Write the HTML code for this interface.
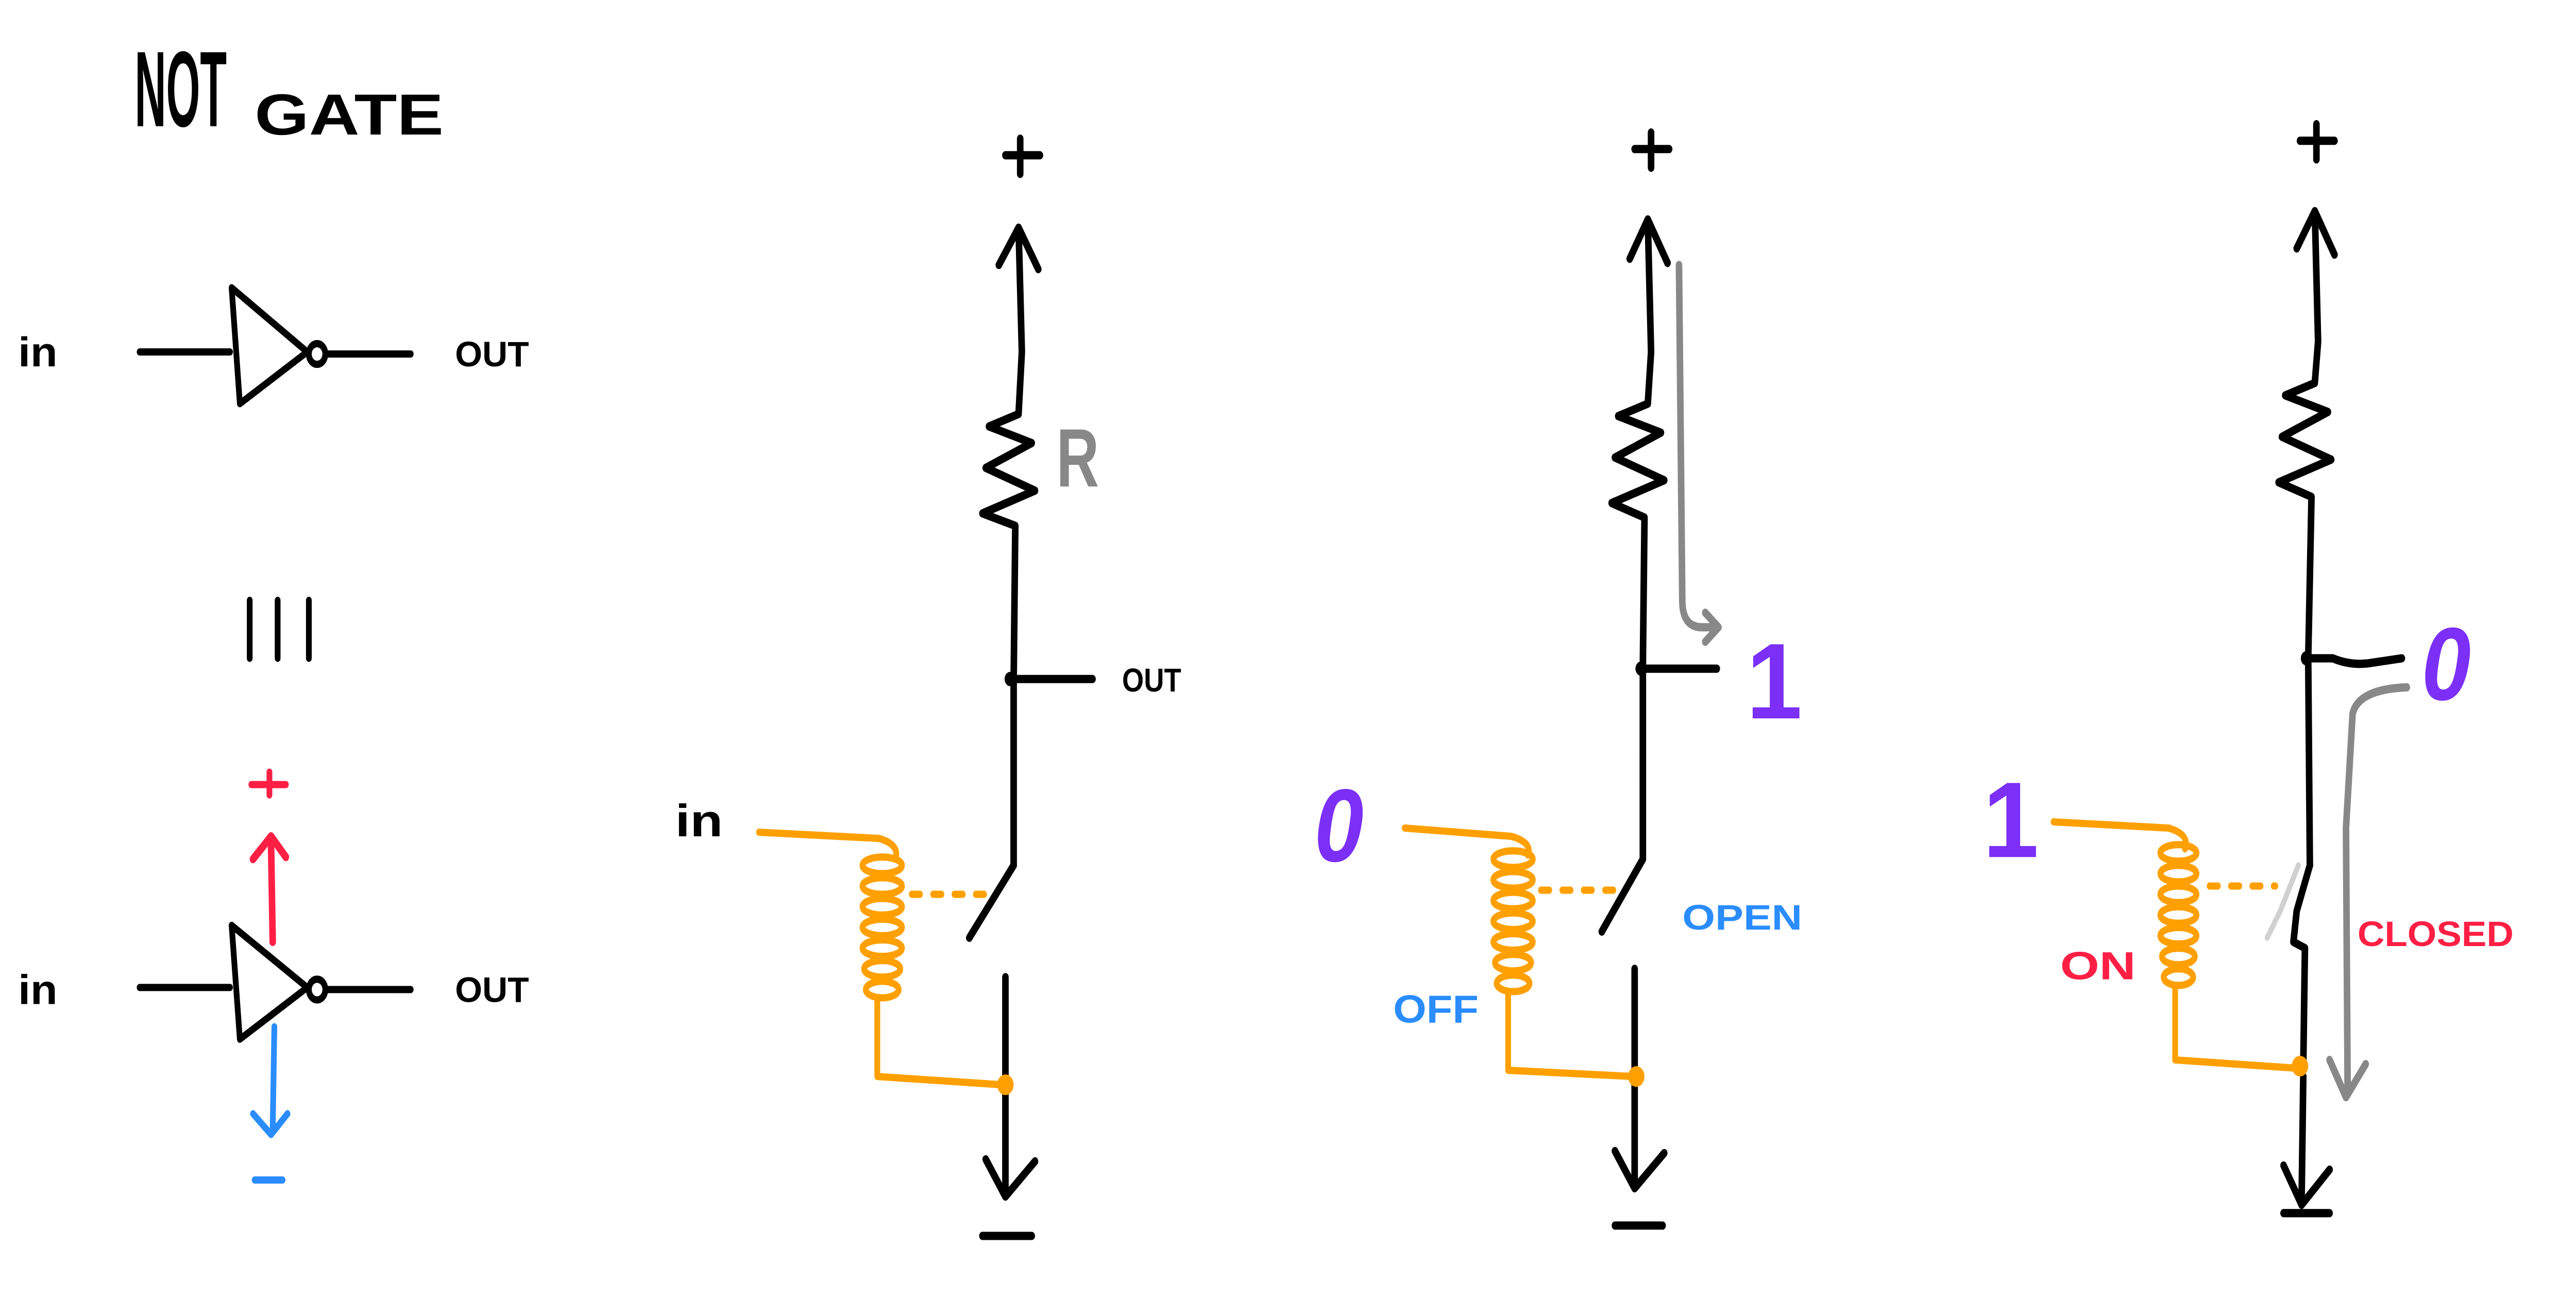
<!DOCTYPE html>
<html><head><meta charset="utf-8"><style>
html,body{margin:0;padding:0;background:#fff;width:100%;height:100%;overflow:hidden;}
svg{display:block;position:absolute;left:0;top:0;width:100vw;height:100vh;}
text{font-family:"Liberation Sans",sans-serif;font-weight:bold;}
</style></head><body>
<svg viewBox="0 0 1568 627" preserveAspectRatio="none" xmlns="http://www.w3.org/2000/svg">
<g fill="none" stroke-linecap="round" stroke-linejoin="round">
<!-- Title -->
<text x="82" y="61" font-size="52" fill="#000" stroke="none" font-weight="normal" textLength="56" lengthAdjust="spacingAndGlyphs">NOT</text>
<text x="155" y="65" font-size="28" fill="#000" stroke="none" textLength="115" lengthAdjust="spacingAndGlyphs">GATE</text>

<!-- Gate 1 -->
<text x="11" y="177" font-size="20" fill="#000" stroke="none" textLength="24" lengthAdjust="spacingAndGlyphs">in</text>
<path d="M85 170 L140 170" stroke="#000" stroke-width="3.5"/>
<path d="M141 139 L146 195 L187 170 Z" stroke="#000" stroke-width="3.5"/>
<circle cx="193" cy="171" r="5" stroke="#000" stroke-width="3.5"/>
<path d="M199 171 L250 171" stroke="#000" stroke-width="3.5"/>
<text x="277" y="177" font-size="17" fill="#000" stroke="none" textLength="45" lengthAdjust="spacingAndGlyphs">OUT</text>

<!-- III -->
<path d="M152 290 L152 318 M169 290 L169 318 M188 290 L188 318" stroke="#000" stroke-width="3.5"/>

<!-- Gate 2 -->
<text x="11" y="485" font-size="20" fill="#000" stroke="none" textLength="24" lengthAdjust="spacingAndGlyphs">in</text>
<path d="M85 477 L140 477" stroke="#000" stroke-width="3.5"/>
<path d="M141 447 L146 502 L187 477 Z" stroke="#000" stroke-width="3.5"/>
<circle cx="193" cy="478" r="5" stroke="#000" stroke-width="3.5"/>
<path d="M199 478 L250 478" stroke="#000" stroke-width="3.5"/>
<text x="277" y="484" font-size="17" fill="#000" stroke="none" textLength="45" lengthAdjust="spacingAndGlyphs">OUT</text>
<path d="M153 379 L174 379 M164 373 L164 384" stroke="#ff1f44" stroke-width="3.5"/>
<path d="M166 455 L165 408 M154 415 L165 404 L174 414" stroke="#ff1f44" stroke-width="4"/>
<path d="M167 496 L166 545 M154 538 L165 548 L175 538" stroke="#2a8cff" stroke-width="3.5"/>
<path d="M155 570 L172 570" stroke="#2a8cff" stroke-width="3.5"/>

<!-- Circuit 1 -->
<g stroke="#000" stroke-width="4">
<path d="M612 75 L633 75 M621 67 L621 84"/>
<path d="M608 128 L620 110 L632 130 M620 110 L622 170 L620 200 L602 206 L628 214 L600 226 L630 237 L598 248 L618 254 L617 330 L617 418"/>
<path d="M617 418 L590 453"/>
<path d="M612 472 L612 576 M600 560 L612 578 L630 561"/>
<path d="M598 597 L628 597"/>
<path d="M615 328 L640 328 L665 328"/>
</g>
<circle cx="615" cy="328" r="3.5" fill="#000"/>
<text x="643" y="235" font-size="40" fill="#888" stroke="none" textLength="26" lengthAdjust="spacingAndGlyphs">R</text>
<text x="683" y="334" font-size="16" fill="#000" stroke="none" textLength="36" lengthAdjust="spacingAndGlyphs">OUT</text>
<text x="411" y="404" font-size="22" fill="#000" stroke="none" textLength="29" lengthAdjust="spacingAndGlyphs">in</text>
<g stroke="#ffa000" stroke-width="3.5">
<path d="M462 402 L535 405 Q548 408 545 415"/>
<ellipse cx="537" cy="418" rx="12" ry="4"/><ellipse cx="537" cy="428" rx="12" ry="4"/><ellipse cx="537" cy="438" rx="12" ry="4"/><ellipse cx="537" cy="448" rx="12" ry="4"/><ellipse cx="537" cy="458" rx="12" ry="4"/><ellipse cx="537" cy="468" rx="11" ry="4"/><ellipse cx="537" cy="478" rx="10" ry="4"/>
<path d="M534 482 L534 520 L610 524"/>
<path d="M555 432 L600 432" stroke-dasharray="5 8"/>
</g>
<circle cx="612" cy="524" r="5" fill="#ffa000"/>

<!-- Circuit 2 -->
<g stroke="#000" stroke-width="4">
<path d="M995 72 L1016 72 M1005 64 L1005 81"/>
<path d="M992 125 L1003 106 L1015 127 M1003 106 L1005 170 L1003 195 L985 201 L1011 209 L983 221 L1013 232 L981 243 L1001 250 L1000 322 L1000 415"/>
<path d="M1000 415 L975 450"/>
<path d="M995 468 L995 570 M983 556 L995 574 L1013 557"/>
<path d="M983 592 L1012 592"/>
<path d="M998 323 L1045 323"/>
</g>
<circle cx="999" cy="323" r="3.5" fill="#000"/>
<path d="M1022 128 L1024 290 Q1024 303 1036 303 L1045 303 M1038 296 L1046 303 L1038 310" stroke="#888" stroke-width="4"/>
<text x="1063" y="347" font-size="52" fill="#7b2ff7" stroke="none" font-weight="normal" textLength="34" lengthAdjust="spacingAndGlyphs">1</text>
<text x="800" y="416" font-size="50" fill="#7b2ff7" stroke="none" font-weight="normal" font-style="italic" textLength="30" lengthAdjust="spacingAndGlyphs">0</text>
<text x="1024" y="449" font-size="17" fill="#2a8cff" stroke="none" textLength="73" lengthAdjust="spacingAndGlyphs">OPEN</text>
<text x="848" y="494" font-size="19" fill="#2a8cff" stroke="none" textLength="52" lengthAdjust="spacingAndGlyphs">OFF</text>
<g stroke="#ffa000" stroke-width="3.5">
<path d="M855 400 L920 404 Q933 407 930 413"/>
<ellipse cx="921" cy="415" rx="12" ry="4"/><ellipse cx="921" cy="425" rx="12" ry="4"/><ellipse cx="921" cy="435" rx="12" ry="4"/><ellipse cx="921" cy="445" rx="12" ry="4"/><ellipse cx="921" cy="455" rx="12" ry="4"/><ellipse cx="921" cy="465" rx="11" ry="4"/><ellipse cx="921" cy="475" rx="10" ry="4"/>
<path d="M918 480 L918 517 L994 520"/>
<path d="M938 430 L985 430" stroke-dasharray="5 8"/>
</g>
<circle cx="996" cy="520" r="5" fill="#ffa000"/>

<!-- Circuit 3 -->
<g stroke="#000" stroke-width="4">
<path d="M1400 68 L1421 68 M1410 60 L1410 77"/>
<path d="M1398 120 L1409 102 L1421 123 M1409 102 L1411 165 L1409 185 L1391 191 L1417 199 L1389 211 L1419 222 L1387 233 L1407 240 L1405 318 L1406 418"/>
<path d="M1406 418 L1398 440 L1396 455 L1403 458 L1402 515"/>
<path d="M1402 520 L1401 578 M1390 563 L1401 582 L1418 565"/>
<path d="M1390 586 L1418 586"/>
<path d="M1404 318 L1420 318 Q1432 322 1445 320 L1462 318"/>
</g>
<circle cx="1404" cy="318" r="3.5" fill="#000"/>
<path d="M1399 418 L1388 440 L1380 453" stroke="#d0d0d0" stroke-width="3"/>
<path d="M1465 332 Q1435 333 1432 345 L1428 400 L1429 528 M1418 512 L1428 530 L1440 514" stroke="#888" stroke-width="4"/>
<text x="1474" y="338" font-size="50" fill="#7b2ff7" stroke="none" font-weight="normal" font-style="italic" textLength="30" lengthAdjust="spacingAndGlyphs">0</text>
<text x="1207" y="414" font-size="52" fill="#7b2ff7" stroke="none" font-weight="normal" textLength="34" lengthAdjust="spacingAndGlyphs">1</text>
<text x="1435" y="457" font-size="17" fill="#ff1f44" stroke="none" textLength="95" lengthAdjust="spacingAndGlyphs">CLOSED</text>
<text x="1254" y="473" font-size="19" fill="#ff1f44" stroke="none" textLength="46" lengthAdjust="spacingAndGlyphs">ON</text>
<g stroke="#ffa000" stroke-width="3.5">
<path d="M1250 397 L1320 400 Q1333 403 1330 410"/>
<ellipse cx="1326" cy="412" rx="11" ry="4"/><ellipse cx="1326" cy="422" rx="11" ry="4"/><ellipse cx="1326" cy="432" rx="11" ry="4"/><ellipse cx="1326" cy="442" rx="11" ry="4"/><ellipse cx="1326" cy="452" rx="11" ry="4"/><ellipse cx="1326" cy="462" rx="10" ry="4"/><ellipse cx="1326" cy="472" rx="9" ry="4"/>
<path d="M1324 476 L1324 512 L1398 516"/>
<path d="M1345 428 L1385 428" stroke-dasharray="5 8"/>
</g>
<circle cx="1400" cy="515" r="5" fill="#ffa000"/>
</g>
</svg>
</body></html>
